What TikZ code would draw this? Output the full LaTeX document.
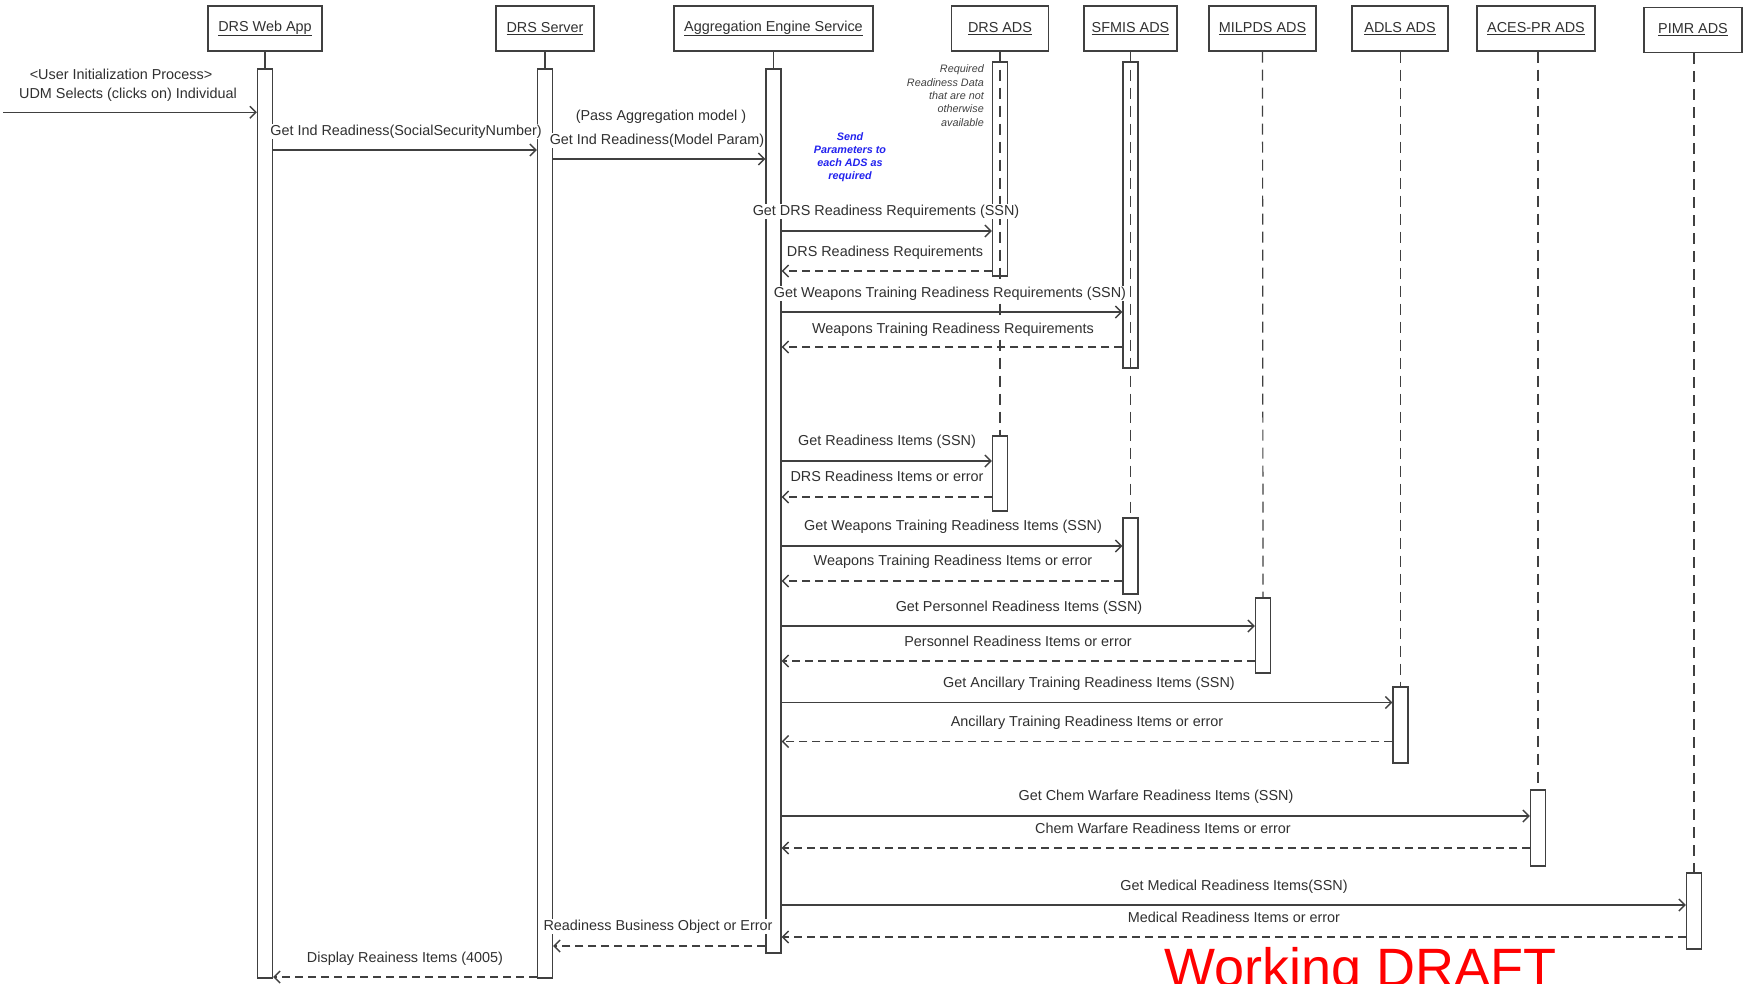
\documentclass[tikz,border=0pt]{standalone}
\usepackage{fontspec}
\setmainfont{Liberation Sans}
\usetikzlibrary{arrows.meta,backgrounds}
\definecolor{ln}{HTML}{404040}
\definecolor{tx}{HTML}{303030}
\definecolor{bluenote}{HTML}{2222EE}
\definecolor{draftred}{HTML}{FF0000}
\begin{document}
\begin{tikzpicture}[x=1pt,y=-1pt,
  hdr/.style={draw=ln, line width=1.3pt, minimum height=45pt, inner sep=0, text=tx, font=\fontsize{14.4}{16}\selectfont},
  actbar/.style={draw=ln, line width=1.3pt, minimum width=15pt, inner sep=0},
  lifeline/.style={draw=ln, line width=1.2pt, dash pattern=on 11pt off 7pt},
  stub/.style={draw=ln, line width=1.2pt},
  call/.style={draw=ln, line width=1.4pt, -{Straight Barb[length=6pt,width=12pt]}},
  ret/.style={draw=ln, line width=1.4pt, dash pattern=on 8pt off 5pt, -{Straight Barb[length=6pt,width=12pt]}},
  lbl/.style={anchor=base, inner sep=1pt, fill=white, text=tx, font=\fontsize{14.4}{16}\selectfont},
]
\useasboundingbox (0,0) rectangle (1743,983);

% header boxes
\node[hdr, minimum width=114pt] (wa)   at (265,28.5)  {\underline{DRS Web App}};
\node[hdr, minimum width=98pt]  (sv)   at (545,28.5)  {\underline{DRS Server}};
\node[hdr, minimum width=199pt] (aes)  at (773.5,28.5){\underline{Aggregation Engine Service}};
\node[hdr, minimum width=97pt]  (drs)  at (1000,28.5) {\underline{DRS ADS}};
\node[hdr, minimum width=93pt]  (sf)   at (1130.5,28.5){\underline{SFMIS ADS}};
\node[hdr, minimum width=107pt] (mil)  at (1262.5,28.5){\underline{MILPDS ADS}};
\node[hdr, minimum width=96pt]  (adls) at (1400,28.5) {\underline{ADLS ADS}};
\node[hdr, minimum width=118pt] (aces) at (1536,28.5) {\underline{ACES-PR ADS}};
\node[hdr, minimum width=98pt]  (pimr) at (1693,30)   {\underline{PIMR ADS}};

% activation bars
\node[actbar, fill=white, minimum height=909pt] (wabar)  at (265,523.5) {};
\node[actbar, fill=white, minimum height=909pt] (svbar)  at (545,523.5) {};
\node[actbar, fill=white, minimum height=884pt] (aesbar) at (773.5,511) {};
\node[actbar, minimum height=214pt] (drs1) at (1000,169) {};
\node[actbar, fill=white, minimum height=75pt] (drs2) at (1000,473.5) {};
\node[actbar, minimum height=306pt] (sf1) at (1130.5,215) {};
\node[actbar, fill=white, minimum height=76pt] (sf2) at (1130.5,556) {};
\node[actbar, fill=white, minimum height=75pt] (milbar) at (1263,635.5) {};
\node[actbar, fill=white, minimum height=76pt] (adlsbar) at (1400.5,725) {};
\node[actbar, fill=white, minimum height=76pt] (acesbar) at (1538,828) {};
\node[actbar, fill=white, minimum height=76pt] (pimrbar) at (1694,911) {};

% lifelines
\begin{scope}[on background layer]
\draw[stub] (wa.south) -- (wabar.north);
\draw[stub] (sv.south) -- (svbar.north);
\draw[stub] (aes.south) -- (aesbar.north);
\draw[lifeline] (drs.south) -- (drs2.north);
\draw[lifeline] (sf.south) -- (sf2.north);
\draw[lifeline] (mil.south) -- (milbar.north);
\draw[lifeline] (adls.south -| adlsbar.north) -- (adlsbar.north);
\draw[lifeline] (aces.south -| acesbar.north) -- (acesbar.north);
\draw[lifeline] (pimr.south -| pimrbar.north) -- (pimrbar.north);
\end{scope}

% notes
\node[anchor=east, align=right, inner sep=0, text=ln, font=\fontsize{10.8}{13.3}\selectfont\itshape] (reqnote) at (984,95.6)
  {Required\\Readiness Data\\that are not\\otherwise\\available};
\node[align=center, inner sep=0, text=bluenote, font=\fontsize{10.8}{13}\selectfont\bfseries\itshape] (sendnote) at (850,157.5)
  {Send\\Parameters to\\each ADS as\\required};

% found message
\coordinate (start) at (3,112.3);
\node[lbl] (l0a) at (121,79.5) {<User Initialization Process>};
\node[lbl] (l0b) at (128,98.5) {UDM Selects (clicks on) Individual};
\draw[call] (start) -- (wabar.west |- start);

% messages
\draw[call] (wabar.east |- 0,150) -- (svbar.west |- 0,150);
\node[lbl] (l1) at (406,135) {Get Ind Readiness(SocialSecurityNumber)};

\draw[call] (svbar.east |- 0,159) -- (aesbar.west |- 0,159);
\node[lbl] (l2a) at (661,120.6) {(Pass Aggregation model )};
\node[lbl] (l2b) at (657,144) {Get Ind Readiness(Model Param)};

\draw[call] (aesbar.east |- 0,231) -- (drs1.west |- 0,231);
\node[lbl] (l3) at (886,215) {Get DRS Readiness Requirements (SSN)};
\draw[ret] (drs1.west |- 0,271) -- (aesbar.east |- 0,271);
\node[lbl] (l4) at (885,256) {DRS Readiness Requirements};

\draw[call] (aesbar.east |- 0,312) -- (sf1.west |- 0,312);
\node[lbl] (l5) at (950,297) {Get Weapons Training Readiness Requirements (SSN)};
\draw[ret] (sf1.west |- 0,347) -- (aesbar.east |- 0,347);
\node[lbl] (l6) at (953,333) {Weapons Training Readiness Requirements};

\draw[call] (aesbar.east |- 0,461) -- (drs2.west |- 0,461);
\node[lbl] (l7) at (887,445) {Get Readiness Items (SSN)};
\draw[ret] (drs2.west |- 0,497) -- (aesbar.east |- 0,497);
\node[lbl] (l8) at (887,481) {DRS Readiness Items or error};

\draw[call] (aesbar.east |- 0,546) -- (sf2.west |- 0,546);
\node[lbl] (l9) at (953,530) {Get Weapons Training Readiness Items (SSN)};
\draw[ret] (sf2.west |- 0,581) -- (aesbar.east |- 0,581);
\node[lbl] (l10) at (953,565) {Weapons Training Readiness Items or error};

\draw[call] (aesbar.east |- 0,626) -- (milbar.west |- 0,626);
\node[lbl] (l11) at (1019,611) {Get Personnel Readiness Items (SSN)};
\draw[ret] (milbar.west |- 0,661) -- (aesbar.east |- 0,661);
\node[lbl] (l12) at (1018,646) {Personnel Readiness Items or error};

\draw[call] (aesbar.east |- 0,702.5) -- (adlsbar.west |- 0,702.5);
\node[lbl] (l13) at (1089,687.5) {Get Ancillary Training Readiness Items (SSN)};
\draw[ret] (adlsbar.west |- 0,741.5) -- (aesbar.east |- 0,741.5);
\node[lbl] (l14) at (1087,726) {Ancillary Training Readiness Items or error};

\draw[call] (aesbar.east |- 0,816) -- (acesbar.west |- 0,816);
\node[lbl] (l15) at (1156,800) {Get Chem Warfare Readiness Items (SSN)};
\draw[ret] (acesbar.west |- 0,848) -- (aesbar.east |- 0,848);
\node[lbl] (l16) at (1163,833) {Chem Warfare Readiness Items or error};

\draw[call] (aesbar.east |- 0,905) -- (pimrbar.west |- 0,905);
\node[lbl] (l17) at (1234,890) {Get Medical Readiness Items(SSN)};
\draw[ret] (pimrbar.west |- 0,937) -- (aesbar.east |- 0,937);
\node[lbl] (l18) at (1234,922) {Medical Readiness Items or error};

\draw[ret] (aesbar.west |- 0,946) -- (svbar.east |- 0,946);
\node[lbl] (l19) at (658,930) {Readiness Business Object or Error};

\draw[ret] (svbar.west |- 0,977) -- (wabar.east |- 0,977);
\node[lbl] (l20) at (405,962) {Display Reainess Items (4005)};

% watermark
\begin{scope}
\clip (0,0) rectangle (1743,983);
\node[anchor=base west, inner sep=0, text=draftred, font=\fontsize{54}{60}\selectfont] (draft) at (1164,986) {Working DRAFT};
\end{scope}
\end{tikzpicture}
\end{document}
